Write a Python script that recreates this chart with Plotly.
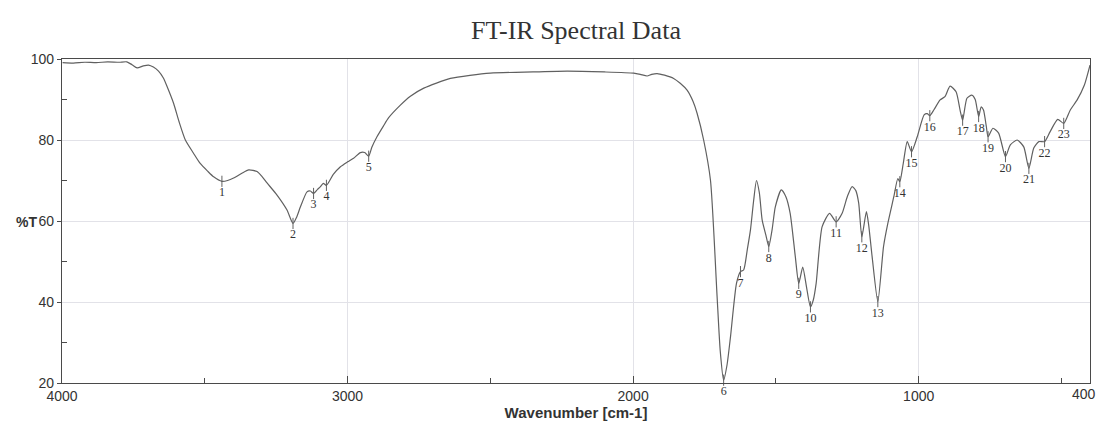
import plotly.graph_objects as go

# Spectrum (wavenumber cm-1, %T)
wavenumber = [3998, 3960, 3920, 3880, 3840, 3800, 3773, 3755, 3737, 3715, 3697, 3680, 3662, 3645,
              3632, 3609, 3590, 3568, 3540, 3516, 3490, 3469, 3440, 3420, 3399, 3370, 3346, 3317,
              3300, 3282, 3247, 3212, 3191, 3178, 3165, 3142, 3130, 3119, 3105, 3095, 3085, 3074,
              3050, 3025, 3000, 2979, 2955, 2940, 2926, 2915, 2897, 2874, 2856, 2815, 2780, 2733,
              2640, 2500, 2350, 2231, 2100, 1998, 1975, 1951, 1935, 1916, 1890, 1858, 1835, 1811,
              1790, 1776, 1753, 1729, 1706, 1695, 1683, 1671, 1659, 1638, 1624, 1613, 1600, 1589,
              1578, 1568, 1558, 1548, 1535, 1525, 1513, 1502, 1481, 1465, 1450, 1432, 1420, 1406,
              1393, 1379, 1369, 1359, 1338, 1312, 1289, 1268, 1250, 1233, 1220, 1210, 1199, 1183,
              1175, 1163, 1143, 1123, 1108, 1087, 1073, 1066, 1054, 1040, 1025, 1005, 981, 970,
              961, 947, 925, 908, 890, 869, 855, 846, 831, 814, 802, 790, 781, 773, 763, 757, 740,
              720, 696, 679, 655, 632, 614, 597, 579, 559, 540, 513, 492, 469, 445, 420, 400]
transmittance = [99.1, 99.0, 99.2, 99.1, 99.3, 99.2, 99.3, 98.6, 97.8, 98.3, 98.5, 98.0, 97.0, 95.3,
                 93.2, 89.0, 84.5, 80.0, 76.8, 74.2, 72.3, 70.9, 69.8, 70.0, 70.6, 71.8, 72.6, 72.2,
                 71.0, 69.4, 66.4, 62.7, 59.4, 61.0, 63.5, 67.2, 67.4, 66.8, 67.8, 68.5, 69.3, 68.8,
                 71.5, 73.4, 74.6, 75.5, 76.9, 76.9, 76.0, 78.2, 80.8, 83.5, 85.5, 88.6, 90.8, 92.8,
                 95.2, 96.5, 96.8, 97.0, 96.8, 96.5, 96.2, 95.8, 96.2, 96.4, 96.0, 95.2, 94.0, 92.3,
                 89.5, 86.6, 80.0, 70.0, 41.5, 28.0, 20.7, 24.5, 31.4, 44.6, 47.5, 47.9, 53.0, 57.8,
                 65.0, 70.0, 67.0, 60.2, 56.5, 53.7, 58.0, 63.5, 67.7, 66.0, 61.9, 51.2, 44.6, 48.6,
                 43.8, 38.8, 40.5, 44.6, 58.6, 61.9, 59.8, 61.9, 66.0, 68.5, 67.5, 64.4, 56.1, 62.3,
                 59.0, 51.2, 40.1, 53.7, 59.4, 66.0, 70.5, 69.7, 74.2, 79.6, 77.1, 80.8, 86.2, 86.5,
                 86.0, 87.4, 89.9, 90.7, 93.3, 91.9, 87.4, 84.9, 90.3, 91.1, 90.0, 85.8, 88.2, 87.4,
                 83.3, 80.8, 82.9, 81.7, 75.9, 78.8, 80.0, 78.3, 73.0, 78.0, 79.6, 79.6, 82.0, 85.1,
                 84.1, 87.4, 89.9, 93.5, 98.5]

# Labelled peaks
peak_labels = [str(i) for i in range(1, 24)]
peak_wn = [3440, 3191, 3119, 3074, 2926, 1683, 1624, 1525, 1420, 1379, 1289, 1199, 1143, 1066,
           1025, 961, 846, 790, 757, 696, 614, 559, 492]
peak_T = [69.8, 59.4, 66.8, 68.8, 76.0, 20.7, 47.5, 53.7, 44.6, 38.8, 59.8, 56.1, 40.1, 69.7,
          77.1, 86.0, 84.9, 85.8, 80.8, 75.9, 73.0, 79.6, 84.1]

x_ticks = [4000, 3000, 2000, 1000, 400]
x_tick_text = ["4000", "3000", "2000", "1000", ""]
x_end_label = "400"
x_minor = [3500, 2500, 1500, 500]
y_ticks = [20, 40, 60, 80, 100]
y_minor = [30, 50, 70, 90]

line_col = "#606060"
axis_col = "#4a4a4a"
grid_col = "#e2e2e8"
text_col = "#333333"
sans = "Liberation Sans, Arial, sans-serif"
serif = "Liberation Serif, Times New Roman, serif"

fig = go.Figure()
fig.add_trace(go.Scatter(
    x=wavenumber, y=transmittance, mode="lines",
    line=dict(color=line_col, width=1.2, shape="spline", smoothing=0.6),
    hoverinfo="x+y", showlegend=False))
fig.add_trace(go.Scatter(
    x=peak_wn, y=peak_T, mode="markers+text", text=peak_labels,
    textposition="bottom center",
    textfont=dict(family=serif, size=12, color=text_col),
    marker=dict(symbol="line-ns-open", size=8, color=line_col,
                line=dict(color=line_col, width=1)),
    cliponaxis=False, showlegend=False))

fig.update_layout(
    width=1102, height=427,
    margin=dict(l=62, r=12, t=59, b=44),
    paper_bgcolor="white", plot_bgcolor="white",
    title=dict(text="FT-IR Spectral Data", xref="paper", x=0.5, xanchor="center",
               yref="container", y=1 - 30 / 427, yanchor="middle",
               font=dict(family=serif, size=26, color=text_col)),
    xaxis=dict(
        range=[4000, 400], tickmode="array", tickvals=x_ticks, ticktext=x_tick_text,
        showgrid=True, gridcolor=grid_col, gridwidth=1,
        showline=True, linecolor=axis_col, linewidth=1.2, mirror=True,
        ticks="inside", ticklen=7, tickcolor=axis_col,
        minor=dict(tickmode="array", tickvals=x_minor, ticks="inside", ticklen=5,
                   tickcolor=axis_col, showgrid=False),
        tickfont=dict(family=sans, size=14, color=text_col),
        zeroline=False,
        title=dict(text="<b>Wavenumber [cm-1]</b>", standoff=2,
                   font=dict(family=sans, size=15, color=text_col)),
    ),
    yaxis=dict(
        range=[20, 100], tickmode="array", tickvals=y_ticks,
        showgrid=True, gridcolor=grid_col, gridwidth=1,
        showline=True, linecolor=axis_col, linewidth=1.2, mirror=True,
        ticks="outside", ticklen=4, tickcolor=axis_col,
        minor=dict(tickmode="array", tickvals=y_minor, ticks="inside", ticklen=5,
                   tickcolor=axis_col, showgrid=False),
        tickfont=dict(family=sans, size=14, color=text_col),
        zeroline=False,
    ),
    annotations=[
        dict(text="<b>%T</b>", xref="paper", yref="paper", x=-0.035, y=0.497,
             showarrow=False, xanchor="center", yanchor="middle",
             font=dict(family=sans, size=14, color=text_col)),
        dict(text=x_end_label, xref="x", yref="paper", x=x_ticks[-1], y=0,
             showarrow=False, xanchor="right", yanchor="top", yshift=-1, xshift=8,
             font=dict(family=sans, size=14, color=text_col)),
    ],
)

fig.write_html("out.html", config={"displayModeBar": False},
               post_script="document.body.style.margin='0';document.body.style.overflow='hidden';")
